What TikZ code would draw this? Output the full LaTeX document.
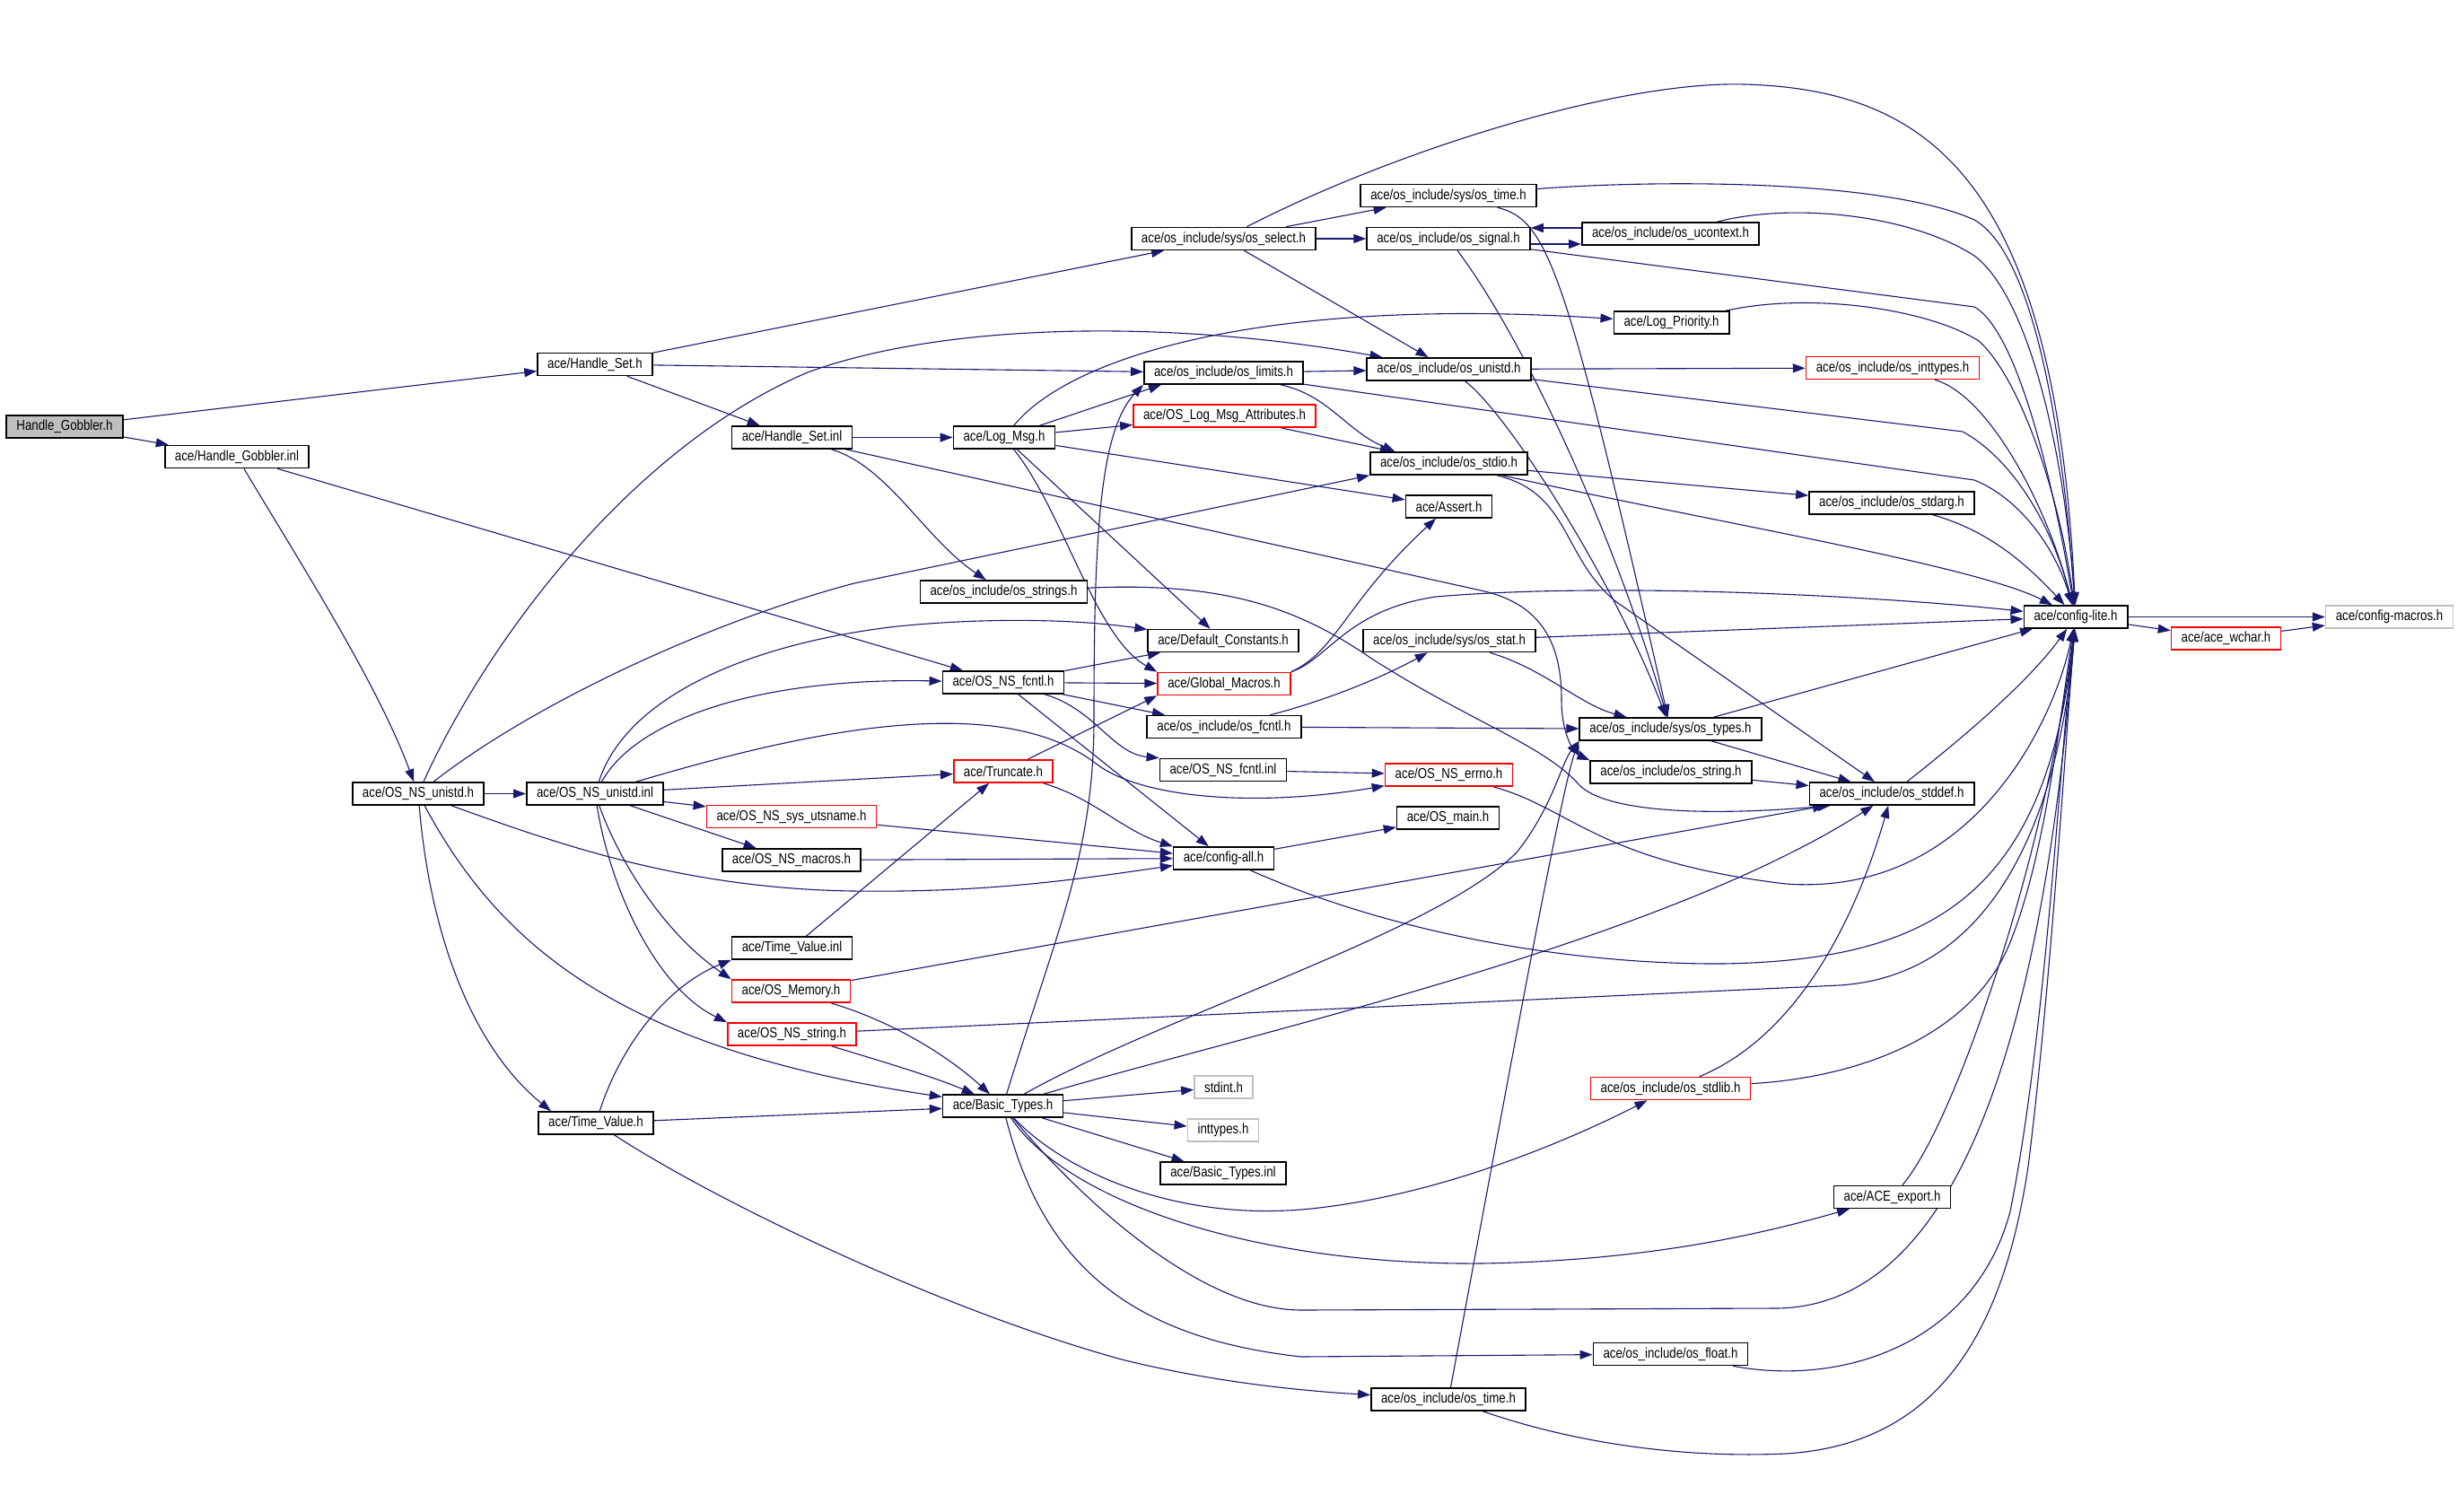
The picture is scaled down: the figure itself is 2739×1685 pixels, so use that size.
\documentclass[tikz,border=0pt]{standalone}
\usepackage{fontspec}
\usepackage{xcolor}
\usepackage{tikz}
\usetikzlibrary{arrows.meta}
\newfontfamily\dotfont{Liberation Sans}[FakeStretch=0.83]
\definecolor{edgeblue}{HTML}{191970}
\definecolor{missred}{HTML}{FF0000}
\definecolor{sysgrey}{HTML}{BFBFBF}
\pgfdeclarelayer{bg}
\pgfsetlayers{bg,main}
\tikzset{
  hdr/.style={draw=black, line width=0.8pt, fill=white, inner xsep=5.6pt, inner ysep=0pt,
    minimum height=12.5pt, font=\dotfont\fontsize{8}{9}\selectfont},
  hdrmiss/.style={hdr, draw=missred},
  hdrsys/.style={hdr, draw=sysgrey},
  hdrroot/.style={hdr, fill=sysgrey},
  dep/.style={draw=edgeblue, line width=0.55pt, line join=round, -{Triangle[length=7pt,width=5pt]}},
}
\begin{document}
\begin{tikzpicture}[x=0.5pt,y=-0.5pt]
  \useasboundingbox (0,0) rectangle (2739,1685);
  % files
  \node[hdrroot] (hg) at (72,475.5) {Handle\_Gobbler.h};
  \node[hdr] (hgi) at (264,509) {ace/Handle\_Gobbler.inl};
  \node[hdr] (hs) at (663,406) {ace/Handle\_Set.h};
  \node[hdr] (hsi) at (882.5,487.5) {ace/Handle\_Set.inl};
  \node[hdr] (lm) at (1119,487.5) {ace/Log\_Msg.h};
  \node[hdr] (sel) at (1363.5,266) {ace/os\_include/sys/os\_select.h};
  \node[hdr] (stime) at (1614,218) {ace/os\_include/sys/os\_time.h};
  \node[hdr] (sig) at (1614,266) {ace/os\_include/os\_signal.h};
  \node[hdr] (uctx) at (1861.5,260.5) {ace/os\_include/os\_ucontext.h};
  \node[hdr] (lp) at (1862.5,359.5) {ace/Log\_Priority.h};
  \node[hdr] (lim) at (1363.5,415.5) {ace/os\_include/os\_limits.h};
  \node[hdr] (uni) at (1614.5,411.5) {ace/os\_include/os\_unistd.h};
  \node[hdrmiss] (intt) at (2109,410) {ace/os\_include/os\_inttypes.h};
  \node[hdrmiss] (lma) at (1364.5,463.5) {ace/OS\_Log\_Msg\_Attributes.h};
  \node[hdr] (stdio) at (1614.5,516.5) {ace/os\_include/os\_stdio.h};
  \node[hdr] (asrt) at (1614.5,564.5) {ace/Assert.h};
  \node[hdr] (sarg) at (2108,560.5) {ace/os\_include/os\_stdarg.h};
  \node[hdr] (strs) at (1118.5,659.5) {ace/os\_include/os\_strings.h};
  \node[hdr] (cl) at (2313,687.5) {ace/config-lite.h};
  \node[hdrsys] (cm) at (2662.5,687.5) {ace/config-macros.h};
  \node[hdrmiss] (wch) at (2480.5,711.5) {ace/ace\_wchar.h};
  \node[hdr] (dc) at (1363,714) {ace/Default\_Constants.h};
  \node[hdr] (stat) at (1615,714) {ace/os\_include/sys/os\_stat.h};
  \node[hdr] (nsf) at (1118,760.5) {ace/OS\_NS\_fcntl.h};
  \node[hdrmiss] (gm) at (1364,762) {ace/Global\_Macros.h};
  \node[hdr] (fcntl) at (1364,810) {ace/os\_include/os\_fcntl.h};
  \node[hdr] (types) at (1861.5,812.5) {ace/os\_include/sys/os\_types.h};
  \node[hdr] (nsfi) at (1363,858) {ace/OS\_NS\_fcntl.inl};
  \node[hdrmiss] (errno) at (1614.5,863.5) {ace/OS\_NS\_errno.h};
  \node[hdr] (str) at (1862,860.5) {ace/os\_include/os\_string.h};
  \node[hdrmiss] (trunc) at (1118,859.5) {ace/Truncate.h};
  \node[hdr] (nsu) at (466,884.5) {ace/OS\_NS\_unistd.h};
  \node[hdr] (nsui) at (663,884.5) {ace/OS\_NS\_unistd.inl};
  \node[hdr] (stddef) at (2108,884.5) {ace/os\_include/os\_stddef.h};
  \node[hdrmiss] (uts) at (882,910) {ace/OS\_NS\_sys\_utsname.h};
  \node[hdr] (osmain) at (1613.5,911.5) {ace/OS\_main.h};
  \node[hdr] (mac) at (882,958.5) {ace/OS\_NS\_macros.h};
  \node[hdr] (call) at (1363.5,956.5) {ace/config-all.h};
  \node[hdr] (tvi) at (882.5,1056.5) {ace/Time\_Value.inl};
  \node[hdrmiss] (mem) at (881.5,1104.5) {ace/OS\_Memory.h};
  \node[hdrmiss] (nss) at (882.5,1152.5) {ace/OS\_NS\_string.h};
  \node[hdrmiss] (stdlib) at (1861.5,1213) {ace/os\_include/os\_stdlib.h};
  \node[hdrsys] (stdint) at (1363.5,1211.5) {stdint.h};
  \node[hdr] (bt) at (1117.5,1232.5) {ace/Basic\_Types.h};
  \node[hdrsys] (inttypes) at (1363,1259.5) {inttypes.h};
  \node[hdr] (tv) at (664,1251.5) {ace/Time\_Value.h};
  \node[hdr] (bti) at (1363,1307.5) {ace/Basic\_Types.inl};
  \node[hdr] (acex) at (2108.5,1334) {ace/ACE\_export.h};
  \node[hdr] (flt) at (1861.5,1509) {ace/os\_include/os\_float.h};
  \node[hdr] (otime) at (1614,1559.5) {ace/os\_include/os\_time.h};

  \begin{pgfonlayer}{bg}
  \fill[white] (0,0) rectangle (2739,1685);
  % includes
  \draw[dep] (hg) -- (hs);
  \draw[dep] (hg) -- (hgi);
  \draw[dep] (hgi) .. controls (330,620) and (420,760) .. (nsu);
  \draw[dep] (hgi) -- (nsf);
  \draw[dep] (hs) -- (sel);
  \draw[dep] (hs) -- (lim);
  \draw[dep] (hs) -- (hsi);
  \draw[dep] (hsi) -- (lm);
  \draw[dep] (hsi) .. controls (990,520) and (1030,600) .. (strs);
  \draw[dep] (hsi) -- (1650,658) .. controls (1720,673) and (1740,720) .. (1740,780)
    .. controls (1740,820) and (1755,840) .. (str.north west);
  \draw[dep] (lm) -- ([xshift=10pt]lim.south west);
  \draw[dep] (lm) -- (lma);
  \draw[dep] (lm) .. controls (1190,400) and (1400,330) .. (lp);
  \draw[dep] (lm) -- (asrt);
  \draw[dep] (lm) -- (dc);
  \draw[dep] (lm) .. controls (1185,570) and (1220,710) .. (gm.north west);
  \draw[dep] (sel) -- (stime);
  \draw[dep] (sel) -- (sig);
  \draw[dep] (sel) -- (uni);
  \draw[dep] (sel) .. controls (1550,170) and (1800,90) .. (1944,94)
    .. controls (2150,100) and (2290,200) .. (cl);
  \draw[dep] (stime) .. controls (1850,200) and (2100,200) .. (2200,245)
    .. controls (2270,285) and (2300,500) .. (cl);
  \draw[dep] (stime) .. controls (1725,245) and (1745,300) .. (types);
  \draw[dep] (sig.east |- 0,272) -- (uctx.west |- 0,272);
  \draw[dep] (uctx.west |- 0,254) -- (sig.east |- 0,254);
  \draw[dep] (sig) -- (2200,342) .. controls (2250,370) and (2290,550) .. (cl);
  \draw[dep] (sig) .. controls (1700,380) and (1800,600) .. (types);
  \draw[dep] (uctx) .. controls (2000,225) and (2130,240) .. (2200,285)
    .. controls (2260,330) and (2300,500) .. (cl);
  \draw[dep] (lp) .. controls (2020,325) and (2150,345) .. (2205,380)
    .. controls (2250,420) and (2295,550) .. (cl);
  \draw[dep] (lim) -- (uni);
  \draw[dep] (lim) -- (2200,535) .. controls (2250,555) and (2290,610) .. (cl);
  \draw[dep] (lim) .. controls (1480,440) and (1500,480) .. ([xshift=-30pt]stdio.north);
  \draw[dep] (uni) -- (intt);
  \draw[dep] (uni) -- (2187,481) .. controls (2240,510) and (2285,580) .. (cl);
  \draw[dep] (uni) .. controls (1680,460) and (1800,650) .. (types);
  \draw[dep] (intt) .. controls (2215,440) and (2280,560) .. (cl);
  \draw[dep] (lma) -- (stdio);
  \draw[dep] (stdio) -- (sarg);
  \draw[dep] (stdio) .. controls (1900,580) and (2200,630) .. (cl);
  \draw[dep] (stdio) .. controls (1750,550) and (1740,620) .. (1800,670) -- (stddef);
  \draw[dep] (sarg) .. controls (2210,590) and (2250,620) .. (cl);
  \draw[dep] (nsu) .. controls (540,720) and (700,500) .. (900,415)
    .. controls (1050,360) and (1300,355) .. (uni);
  \draw[dep] (nsu) .. controls (600,780) and (800,690) .. (952,650) -- (stdio.south west);
  \draw[dep] (nsu) -- (nsui);
  \draw[dep] (nsu) .. controls (620,940) and (760,990) .. (950,993)
    .. controls (1100,995) and (1200,980) .. (call);
  \draw[dep] (nsu) .. controls (560,1060) and (700,1170) .. (bt);
  \draw[dep] (nsu) .. controls (480,1050) and (530,1170) .. ([xshift=-25pt]tv.north);
  \draw[dep] (nsui) .. controls (710,800) and (850,755) .. (nsf);
  \draw[dep] (nsui) .. controls (700,770) and (850,715) .. (1000,698)
    .. controls (1100,688) and (1200,690) .. (dc);
  \draw[dep] (nsui) .. controls (850,830) and (1100,760) .. (1220,850)
    .. controls (1270,890) and (1400,900) .. (errno);
  \draw[dep] (nsui) -- (trunc);
  \draw[dep] (nsui) -- (uts);
  \draw[dep] (nsui) -- (mac);
  \draw[dep] (nsui) .. controls (690,960) and (740,1040) .. (mem.north west);
  \draw[dep] (nsui) .. controls (680,990) and (730,1100) .. (nss.north west);
  \draw[dep] (bt) .. controls (1180,1030) and (1219,950) .. (1219,800)
    .. controls (1219,600) and (1225,480) .. (lim.south west);
  \draw[dep] (nsf) -- (dc);
  \draw[dep] (nsf) -- (gm);
  \draw[dep] (nsf) -- (fcntl);
  \draw[dep] (nsf) .. controls (1220,790) and (1240,840) .. (nsfi.north west);
  \draw[dep] (nsf) -- (call);
  \draw[dep] (gm.north east) .. controls (1490,725) and (1500,670) .. (asrt);
  \draw[dep] (gm.north east) .. controls (1480,735) and (1500,680) .. (1600,665)
    .. controls (1800,648) and (2100,665) .. (cl);
  \draw[dep] (fcntl) .. controls (1480,780) and (1540,755) .. (stat);
  \draw[dep] (fcntl) -- (types);
  \draw[dep] (stat) -- (cl);
  \draw[dep] (stat) .. controls (1720,745) and (1760,785) .. (types);
  \draw[dep] (types) -- (cl);
  \draw[dep] (types) -- (stddef);
  \draw[dep] (str) -- (stddef);
  \draw[dep] (strs) .. controls (1370,648) and (1450,680) .. (1530,735)
    .. controls (1640,805) and (1720,830) .. (1760,875)
    .. controls (1790,905) and (1900,910) .. ([xshift=12pt]stddef.south west);
  \draw[dep] (stddef) .. controls (2190,820) and (2260,760) .. (cl);
  \draw[dep] (nsfi) -- (errno);
  \draw[dep] (errno) .. controls (1750,900) and (1780,960) .. (1990,985)
    .. controls (2200,1000) and (2290,800) .. (cl);
  \draw[dep] (trunc) -- (gm.south west);
  \draw[dep] (trunc) .. controls (1220,890) and (1250,925) .. (call.north west);
  \draw[dep] (uts) -- (call);
  \draw[dep] (mac) -- (call);
  \draw[dep] (call) -- (osmain);
  \draw[dep] (call) .. controls (1550,1040) and (1750,1075) .. (1920,1074)
    .. controls (2150,1070) and (2280,1000) .. (cl);
  \draw[dep] (tvi) -- (trunc);
  \draw[dep] (mem) -- (stddef);
  \draw[dep] (mem) .. controls (1000,1140) and (1060,1180) .. (bt);
  \draw[dep] (nss) .. controls (990,1185) and (1040,1200) .. (bt);
  \draw[dep] (nss) -- (2050,1098) .. controls (2250,1085) and (2300,850) .. (cl);
  \draw[dep] (tv) .. controls (690,1170) and (740,1100) .. (tvi.south west);
  \draw[dep] (tv) -- (bt);
  \draw[dep] (tv) .. controls (800,1340) and (1050,1460) .. (1250,1515)
    .. controls (1350,1540) and (1450,1550) .. (otime);
  \draw[dep] (bt) -- (stdint);
  \draw[dep] (bt) -- (inttypes);
  \draw[dep] (bt) -- (bti);
  \draw[dep] (bt) .. controls (1180,1300) and (1300,1360) .. (1450,1348)
    .. controls (1600,1335) and (1750,1270) .. (stdlib);
  \draw[dep] (bt) .. controls (1190,1340) and (1400,1410) .. (1650,1408)
    .. controls (1850,1405) and (1980,1370) .. (acex);
  \draw[dep] (bt) .. controls (1190,1320) and (1330,1460) .. (1450,1460) -- (1980,1458)
    .. controls (2200,1455) and (2280,1100) .. (cl);
  \draw[dep] (bt) .. controls (1160,1400) and (1250,1490) .. (1450,1512) -- (flt);
  \draw[dep] (bt) .. controls (1300,1130) and (1600,1040) .. (1690,950)
    .. controls (1730,900) and (1740,850) .. (types.south west);
  \draw[dep] (bt) .. controls (1400,1150) and (1850,1050) .. (stddef);
  \draw[dep] (stdlib) .. controls (1990,1160) and (2060,1050) .. (stddef);
  \draw[dep] (stdlib) .. controls (2080,1200) and (2200,1150) .. (2240,1050)
    .. controls (2280,950) and (2295,800) .. (cl);
  \draw[dep] (acex) .. controls (2180,1250) and (2280,950) .. (cl);
  \draw[dep] (flt) .. controls (2050,1545) and (2200,1500) .. (2240,1350)
    .. controls (2280,1150) and (2295,850) .. (cl);
  \draw[dep] (otime) .. controls (1690,1150) and (1740,880) .. (types.south west);
  \draw[dep] (otime) .. controls (1760,1610) and (1880,1625) .. (1990,1620)
    .. controls (2150,1610) and (2230,1500) .. (2260,1300)
    .. controls (2285,1100) and (2300,850) .. (cl);
  \draw[dep] (cl) -- (cm);
  \draw[dep] (cl) -- (wch);
  \draw[dep] (wch) -- (cm);
  \end{pgfonlayer}
\end{tikzpicture}
\end{document}
